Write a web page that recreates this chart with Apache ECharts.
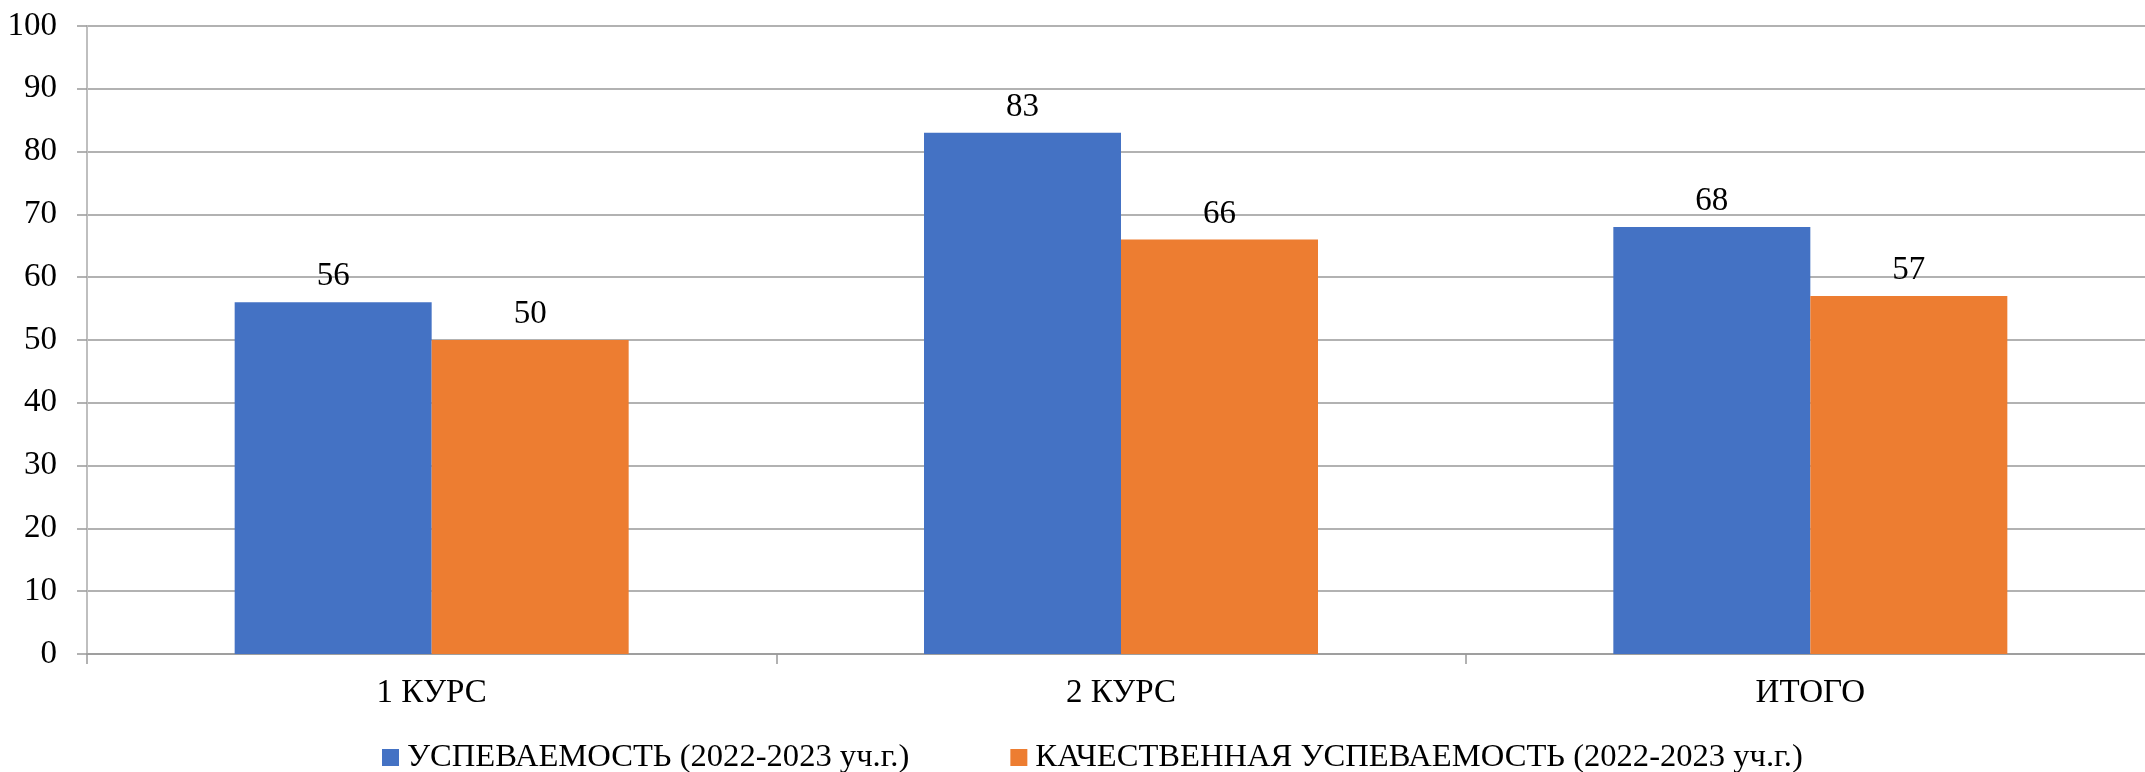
<!DOCTYPE html>
<html>
<head>
<meta charset="utf-8">
<script src="https://cdn.jsdelivr.net/npm/echarts@6/dist/echarts.min.js"></script>
<style>
html,body{margin:0;padding:0;background:#fff;}
#chart{width:2145px;height:772px;}
</style>
</head>
<body>
<div id="chart"></div>
<script>
const categories = ['1 КУРС', '2 КУРС', 'ИТОГО'];
const seriesNames = ['УСПЕВАЕМОСТЬ (2022-2023 уч.г.)', 'КАЧЕСТВЕННАЯ УСПЕВАЕМОСТЬ (2022-2023 уч.г.)'];
const uspevaemost = [56, 83, 68];
const kachestvennaya = [50, 66, 57];
const yTicks = { min: 0, max: 100, interval: 10 };

const FONT = '"Liberation Serif", "Times New Roman", serif';
const chart = echarts.init(document.getElementById('chart'), null, { renderer: 'canvas' });

const labelCfg = {
  show: true,
  position: 'top',
  distance: 9,
  color: '#000',
  fontSize: 33,
  fontFamily: FONT
};

chart.setOption({
  animation: false,
  backgroundColor: '#fff',
  textStyle: { fontFamily: FONT },
  grid: { left: 87, top: 26, width: 2068, bottom: 118, containLabel: false, outerBoundsMode: 'none' },
  legend: {
    left: 377,
    top: 736,
    itemWidth: 17,
    itemHeight: 17,
    itemGap: 101,
    icon: 'rect',
    textStyle: { color: '#000', fontSize: 32.6, fontFamily: FONT, padding: [0, 0, 0, 3] },
    data: seriesNames
  },
  xAxis: {
    type: 'category',
    data: categories,
    boundaryGap: true,
    axisLine: { show: true, lineStyle: { color: '#999', width: 1.5 } },
    axisTick: { show: true, length: 10, lineStyle: { color: '#999', width: 1.5 } },
    axisLabel: { color: '#000', fontSize: 33, fontFamily: FONT, margin: 23 }
  },
  yAxis: {
    type: 'value',
    min: yTicks.min,
    max: yTicks.max,
    interval: yTicks.interval,
    axisLine: { show: true, lineStyle: { color: '#bfbfbf', width: 2 } },
    axisTick: { show: true, length: 10, lineStyle: { color: '#999', width: 1.5 } },
    axisLabel: { color: '#000', fontSize: 33, fontFamily: FONT, margin: 30 },
    splitLine: { show: true, lineStyle: { color: '#999', width: 1.5 } }
  },
  series: [
    {
      name: seriesNames[0],
      type: 'bar',
      data: uspevaemost,
      barWidth: 197,
      barGap: '0%',
      itemStyle: { color: '#4472C4' },
      label: labelCfg
    },
    {
      name: seriesNames[1],
      type: 'bar',
      data: kachestvennaya,
      barWidth: 197,
      barGap: '0%',
      itemStyle: { color: '#ED7D31' },
      label: labelCfg
    }
  ]
});
</script>
</body>
</html>
